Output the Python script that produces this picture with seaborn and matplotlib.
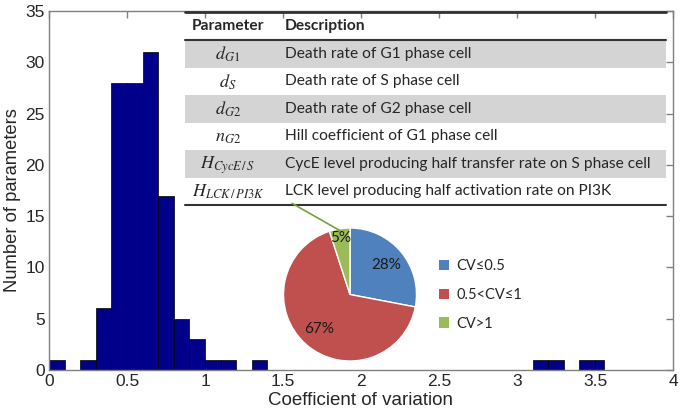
import numpy as np
import matplotlib
matplotlib.use('Agg')
import matplotlib.pyplot as plt
import seaborn as sns
from matplotlib.patches import Patch

# --- data ---
# histogram: left edges of the 0.1-wide bins and counts per bin
bin_left = [0.0, 0.1, 0.2, 0.3, 0.4, 0.5, 0.6, 0.7, 0.8, 0.9,
            1.0, 1.1, 1.2, 1.3, 1.4, 1.5, 1.6, 1.7, 1.8, 1.9,
            2.0, 2.1, 2.2, 2.3, 2.4, 2.5, 2.6, 2.7, 2.8, 2.9,
            3.0, 3.1, 3.2, 3.3, 3.4, 3.5]
counts = [1, 0, 1, 6, 28, 28, 31, 17, 5, 3,
          1, 1, 0, 1, 0, 0, 0, 0, 0, 0,
          0, 0, 0, 0, 0, 0, 0, 0, 0, 0,
          0, 1, 1, 0, 1, 1]
last_edge = 3.56

# pie of CV classes
pie_labels = ['CV\u22640.5', '0.5<CV\u22641', 'CV>1']
pie_share = [28, 67, 5]
pie_colors = ['#4F81BD', '#C0504D', '#9BBB59']

# parameter table
param_symbols = [r'$d_{G1}$', r'$d_{S}$', r'$d_{G2}$', r'$n_{G2}$',
                 r'$H_{CycE\,/\,S}$', r'$H_{LCK\,/\,PI3K}$']
param_desc = ['Death rate of G1 phase cell',
              'Death rate of S phase cell',
              'Death rate of G2 phase cell',
              'Hill coefficient of G1 phase cell',
              'CycE level producing half transfer rate on S phase cell',
              'LCK level producing half activation rate on PI3K']

sns.set_style('white')
plt.rcParams['font.family'] = ['Liberation Sans', 'DejaVu Sans']
plt.rcParams['mathtext.fontset'] = 'stix'
TXT = ['Lato', 'DejaVu Sans']

W, H = 683, 413
fig = plt.figure(figsize=(W / 100, H / 100), dpi=100)

def px_axes(x0, y0, x1, y1):
    # rectangle given in pixels from the top-left corner
    return fig.add_axes([x0 / W, 1 - y1 / H, (x1 - x0) / W, (y1 - y0) / H])

# --- main histogram ---
ax = px_axes(49, 11, 673, 370)
edges = bin_left + [last_edge]
centers = [(edges[i] + edges[i + 1]) / 2 for i in range(len(bin_left))]
sns.histplot(x=centers, weights=counts, bins=edges, color='#00008B',
             edgecolor='black', linewidth=0.5, alpha=1, ax=ax)
ax.set_xlim(0, 4)
ax.set_ylim(0, 35)
ax.set_xticks(np.arange(0, 4.01, 0.5))
ax.set_xticklabels(['0', '0.5', '1', '1.5', '2', '2.5', '3', '3.5', '4'])
ax.set_yticks(range(0, 36, 5))
ax.tick_params(direction='in', length=5, width=1, color='#808080',
               top=True, right=True, labelsize=12.5, pad=3)
for s in ax.spines.values():
    s.set_color('#808080')
    s.set_linewidth(1)
ax.set_xlabel('Coefficient of variation', fontsize=13.5, labelpad=2)
ax.set_ylabel('Number of parameters', fontsize=13.2)
ax.yaxis.set_label_coords(-0.045, 0.474)

# --- parameter table inset ---
tab = px_axes(185, 12, 666, 205)
tab.set_xlim(0, 481)
tab.set_ylim(193, 0)
tab.axis('off')
head_h = 28
row_h = (193 - head_h) / len(param_symbols)
for i, (sym, desc) in enumerate(zip(param_symbols, param_desc)):
    y0 = head_h + i * row_h
    if i % 2 == 0:
        tab.axhspan(y0, y0 + row_h, color='#D4D4D4', lw=0)
    tab.text(43, y0 + row_h / 2 + 1, sym, ha='center', va='center', fontsize=13)
    tab.text(100, y0 + row_h / 2, desc, ha='left', va='center',
             fontsize=11.2, family=TXT)
tab.text(7, head_h / 2, 'Parameter', ha='left', va='center',
         fontsize=11.2, fontweight='bold', family=TXT)
tab.text(100, head_h / 2, 'Description', ha='left', va='center',
         fontsize=11.2, fontweight='bold', family=TXT)
for yy, lw in [(0, 2), (head_h, 1.5), (193, 1.5)]:
    tab.axhline(yy, color='#333333', lw=lw, clip_on=False)

# --- pie inset ---
pax = px_axes(283, 228, 417, 361)
wedges, _, autotexts = pax.pie(pie_share, colors=pie_colors, startangle=90,
                               counterclock=False, autopct='%d%%',
                               pctdistance=0.7,
                               textprops={'fontsize': 11, 'family': TXT,
                                          'color': '#1a1a1a'})
pax.set_xlim(-1, 1)
pax.set_ylim(-1, 1)
# small slice label sits near the rim
th = np.deg2rad((wedges[2].theta1 + wedges[2].theta2) / 2)
autotexts[2].set_position((0.86 * np.cos(th), 0.86 * np.sin(th)))
pax.plot([-0.87, -0.15], [1.37, 0.96], color='#77A03C', lw=1.2, clip_on=False)

handles = [Patch(facecolor=c, edgecolor='none') for c in pie_colors]
fig.legend(handles, pie_labels, loc='center left',
           bbox_to_anchor=(426 / W, 1 - 295 / H), frameon=False,
           handlelength=0.7, handleheight=0.7, handletextpad=0.5,
           labelspacing=1.0, prop={'family': TXT, 'size': 10.5})

fig.savefig('out.png', dpi=100)
